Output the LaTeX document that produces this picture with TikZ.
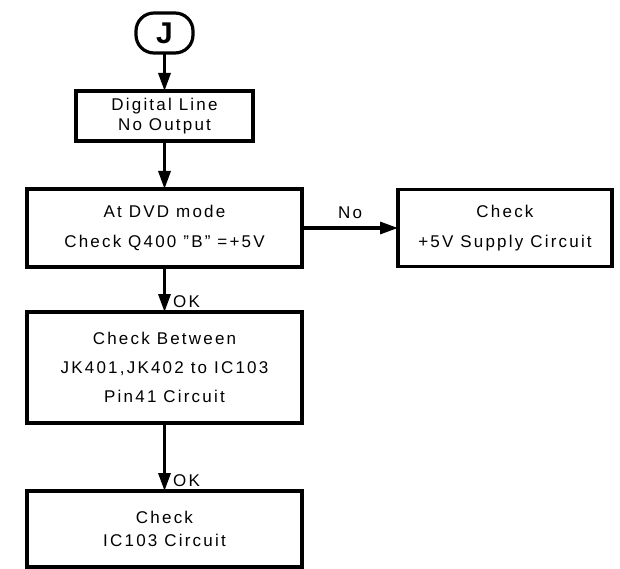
\documentclass[tikz,border=0pt]{standalone}
\usepackage{fontspec}
\setmainfont[LetterSpace=13]{Liberation Sans}
\usepackage{tikz}
\usetikzlibrary{shapes,arrows,positioning,calc}
\usetikzlibrary{arrows.meta}
\tikzstyle{line} = [draw, line width=3.2pt, -{Triangle[length=18pt,width=12pt]}]

\begin{document}
\begin{tikzpicture}[font=\fontsize{17}{20}\selectfont]

\tikzset{
    fbox/.style={draw, rectangle, line width=3.2pt, outer sep=0pt,
      inner sep=0pt, text centered, align=center},
    flabel/.style={inner sep=0pt}
}

\useasboundingbox (0,0) rectangle (620pt,-569pt);

  \node [fbox, rounded corners=18pt, minimum width=57pt, minimum height=40pt]
  (fcj) at (164.5pt,-33pt) {\bfseries\fontsize{30}{30}\selectfont J};

  \node [fbox, minimum width=177pt, minimum height=50pt, below=38pt of fcj]
  (fcd) {Digital Line\\No Output};

  \node [fbox, minimum width=275pt, minimum height=78pt, below=48pt of fcd]
  (fcq) {At DVD mode\\[10pt]Check Q400 "B" =+5V};

  \node [fbox, minimum width=214pt, minimum height=77pt, right=96pt of fcq]
  (fcs) {Check\\[10pt]+5V Supply Circuit};

  \node [fbox, minimum width=275pt, minimum height=111pt, below=45pt of fcq]
  (fcb) {Check Between\\[9pt]JK401,JK402 to IC103\\[9pt]Pin41 Circuit};

  \node [fbox, minimum width=275pt, minimum height=76pt, below=68pt of fcb]
  (fcc) {Check\\[3pt]IC103 Circuit};

  \path [line] (fcj) -- (fcd);
  \path [line] (fcd) -- (fcq);
  \path [line] (fcq) -- (fcs) node[flabel, midway, above=8pt] {No};
  \path [line] (fcq) -- (fcb) node[flabel, pos=1, above right=3pt and 7pt] {OK};
  \path [line] (fcb) -- (fcc) node[flabel, pos=1, above right=3pt and 7pt] {OK};

\end{tikzpicture}
\end{document}
